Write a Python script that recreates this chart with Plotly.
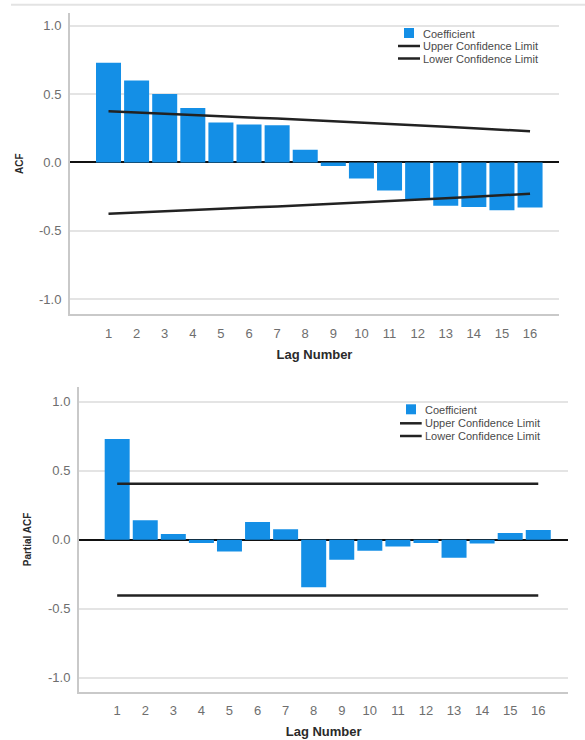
import plotly.graph_objects as go

# Lags shared by both correlograms
lags = list(range(1, 17))
tick_vals = [1.0, 0.5, 0.0, -0.5, -1.0]
tick_text = ["1.0", "0.5", "0.0", "-0.5", "-1.0"]

# Autocorrelation function
acf_coef = [0.730, 0.599, 0.501, 0.399, 0.292, 0.277, 0.273, 0.093,
            -0.025, -0.117, -0.204, -0.272, -0.316, -0.326, -0.350, -0.330]
acf_upper = [0.374, 0.364, 0.355, 0.347, 0.338, 0.329, 0.321, 0.312,
             0.302, 0.293, 0.283, 0.272, 0.262, 0.251, 0.239, 0.228]
acf_lower = [-v for v in acf_upper]

# Partial autocorrelation function
pacf_coef = [0.730, 0.141, 0.041, -0.024, -0.086, 0.129, 0.075, -0.344,
             -0.146, -0.080, -0.049, -0.024, -0.131, -0.027, 0.049, 0.071]
pacf_upper = [0.405] * 16
pacf_lower = [-0.405] * 16

BAR = "#148fe6"
LINE = "#222222"
GRID = "#e4e4e4"
AXIS = "#c9c9c9"
TICK = "#6e6e6e"
FONT = "Liberation Sans, Arial, sans-serif"
W, H = 585, 740

fig = go.Figure()


def add_panel(coef, upper, lower, xa, ya):
    fig.add_trace(go.Bar(x=lags, y=coef, name="Coefficient", marker_color=BAR,
                         marker_line_width=0, xaxis=xa, yaxis=ya, showlegend=False))
    fig.add_trace(go.Scatter(x=lags, y=upper, mode="lines", name="Upper Confidence Limit",
                             line=dict(color=LINE, width=2.5), xaxis=xa, yaxis=ya,
                             showlegend=False))
    fig.add_trace(go.Scatter(x=lags, y=lower, mode="lines", name="Lower Confidence Limit",
                             line=dict(color=LINE, width=2.5), xaxis=xa, yaxis=ya,
                             showlegend=False))


add_panel(acf_coef, acf_upper, acf_lower, "x", "y")
add_panel(pacf_coef, pacf_upper, pacf_lower, "x2", "y2")


def px_x(v):
    return v / W


def px_y(v):
    return 1 - v / H


xcommon = dict(tickvals=lags, ticktext=[str(v) for v in lags], showgrid=False,
               showline=True, linecolor=AXIS, linewidth=2, zeroline=False,
               tickfont=dict(family=FONT, size=13, color=TICK), ticks="",
               ticklabelstandoff=6, fixedrange=True,
               title=dict(text="<b>Lag Number</b>", standoff=10,
                          font=dict(family=FONT, size=13, color="#2a2a2a")))
ycommon = dict(tickvals=tick_vals, ticktext=tick_text, showgrid=True, gridcolor=GRID,
               gridwidth=1.5, showline=True, linecolor=AXIS, linewidth=2,
               zeroline=True, zerolinecolor="#111111", zerolinewidth=2,
               tickfont=dict(family=FONT, size=13, color=TICK), ticks="",
               ticklabelstandoff=4, fixedrange=True)

fig.update_layout(
    width=W, height=H,
    margin=dict(l=0, r=0, t=0, b=0),
    paper_bgcolor="white", plot_bgcolor="white",
    bargap=0.11,
    font=dict(family=FONT),
    xaxis=dict(domain=[px_x(70), px_x(559)], range=[-0.37, 17.03], anchor="y", **xcommon),
    yaxis=dict(domain=[px_y(314.3), px_y(13)], range=[-1.11, 1.093], anchor="x",
               title=dict(text="<b>ACF</b>", standoff=13,
                          font=dict(family=FONT, size=10, color="#2a2a2a")),
               **ycommon),
    xaxis2=dict(domain=[px_x(79), px_x(568.3)], range=[-0.36, 17.07], anchor="y2", **xcommon),
    yaxis2=dict(domain=[px_y(691.7), px_y(387.3)], range=[-1.101, 1.104], anchor="x2",
                title=dict(text="<b>Partial ACF</b>", standoff=14,
                           font=dict(family=FONT, size=10, color="#2a2a2a")),
                **ycommon),
)

shapes = [dict(type="line", xref="paper", yref="paper", x0=px_x(11), x1=1,
               y0=px_y(4.7), y1=px_y(4.7), line=dict(color="#e3e3e3", width=2))]
annotations = []


def add_legend(sq_cx, sq_cy, line_x0, line_x1, text_x, row_ys):
    # swatch for the bars
    shapes.append(dict(type="rect", xref="paper", yref="paper",
                       x0=px_x(sq_cx - 5), x1=px_x(sq_cx + 5),
                       y0=px_y(sq_cy + 5), y1=px_y(sq_cy - 5),
                       fillcolor=BAR, line=dict(width=0)))
    for yy in row_ys[1:]:
        shapes.append(dict(type="line", xref="paper", yref="paper",
                           x0=px_x(line_x0), x1=px_x(line_x1), y0=px_y(yy), y1=px_y(yy),
                           line=dict(color=LINE, width=2.5)))
    for label, yy in zip(["Coefficient", "Upper Confidence Limit", "Lower Confidence Limit"],
                         row_ys):
        annotations.append(dict(text=label, xref="paper", yref="paper", x=px_x(text_x),
                                y=px_y(yy), xanchor="left", yanchor="middle",
                                showarrow=False,
                                font=dict(family=FONT, size=11, color="#4a4a4a")))


add_legend(409, 33, 398, 420, 421, [33.5, 46, 58.5])
add_legend(411, 409.3, 400, 421.7, 423, [409.8, 423.3, 436])

fig.update_layout(shapes=shapes, annotations=annotations)

fig.write_html("out.html")
